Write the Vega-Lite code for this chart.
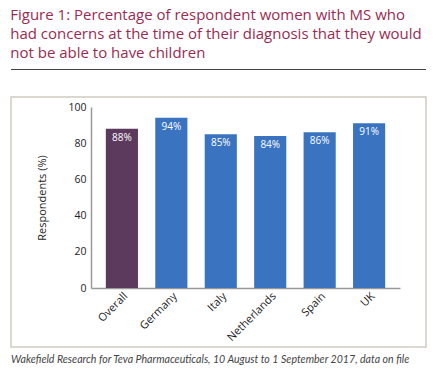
{
  "$schema": "https://vega.github.io/schema/vega-lite/v6.json",
  "background": "white",
  "padding": {"left": 10, "top": 8, "right": 9, "bottom": 0},
  "title": {
    "text": ["Figure 1: Percentage of respondent women with MS who", "had concerns at the time of their diagnosis that they would", "not be able to have children"],
    "anchor": "start",
    "font": "Open Sans",
    "fontSize": 15,
    "fontWeight": "normal",
    "lineHeight": 19,
    "color": "#9b2b50",
    "offset": 8
  },
  "data": {"values": [
    {"country": "Overall", "pct": 88, "label": "88%", "group": "overall"},
    {"country": "Germany", "pct": 94, "label": "94%", "group": "country"},
    {"country": "Italy", "pct": 85, "label": "85%", "group": "country"},
    {"country": "Netherlands", "pct": 84, "label": "84%", "group": "country"},
    {"country": "Spain", "pct": 86, "label": "86%", "group": "country"},
    {"country": "UK", "pct": 91, "label": "91%", "group": "country"}
  ]},
  "spacing": 26,
  "vconcat": [
    {
      "width": 415,
      "height": 1,
      "view": {"stroke": null, "fill": "#444444"},
      "data": {"values": []},
      "mark": {"type": "rule"},
      "encoding": {}
    },
    {
      "width": 415,
      "height": 250,
      "view": {"stroke": "#cfcac2", "strokeWidth": 1.5},
      "title": {
        "text": "Wakefield Research for Teva Pharmaceuticals, 10 August to 1 September 2017, data on file",
        "orient": "bottom",
        "anchor": "start",
        "font": "Lato",
        "fontStyle": "italic",
        "fontWeight": "normal",
        "fontSize": 10.6,
        "color": "#444444",
        "offset": 8
      },
      "encoding": {
        "x": {
          "field": "country",
          "type": "nominal",
          "sort": null,
          "scale": {"range": [80, 389], "paddingInner": 0.35, "paddingOuter": 0.3},
          "axis": {
            "title": null,
            "offset": -59,
            "labelAngle": -45,
            "labelAlign": "right",
            "labelBaseline": "top",
            "labelFont": "Open Sans",
            "labelFontSize": 11,
            "labelColor": "#222222",
            "labelPadding": 2,
            "ticks": false,
            "domainColor": "#999999",
            "domainWidth": 1.5
          }
        },
        "y": {
          "field": "pct",
          "type": "quantitative",
          "scale": {"domain": [0, 100], "range": [191, 10]},
          "axis": {
            "title": "Respondents (%)",
            "offset": -80,
            "values": [0, 20, 40, 60, 80, 100],
            "grid": false,
            "ticks": false,
            "labelFont": "Open Sans",
            "labelFontSize": 10.5,
            "labelColor": "#222222",
            "labelPadding": 5,
            "titleFont": "Open Sans",
            "titleFontSize": 11,
            "titleFontWeight": "normal",
            "titleColor": "#222222",
            "titlePadding": 20,
            "domainColor": "#999999",
            "domainWidth": 1.5
          }
        }
      },
      "layer": [
        {
          "mark": {"type": "bar"},
          "encoding": {
            "color": {
              "field": "group",
              "type": "nominal",
              "scale": {"domain": ["overall", "country"], "range": ["#5c3a5e", "#3a74c1"]},
              "legend": null
            }
          }
        },
        {
          "mark": {"type": "text", "color": "white", "font": "Open Sans", "fontSize": 10, "baseline": "top", "dy": 4},
          "encoding": {
            "text": {"field": "label", "type": "nominal"}
          }
        }
      ]
    }
  ]
}
